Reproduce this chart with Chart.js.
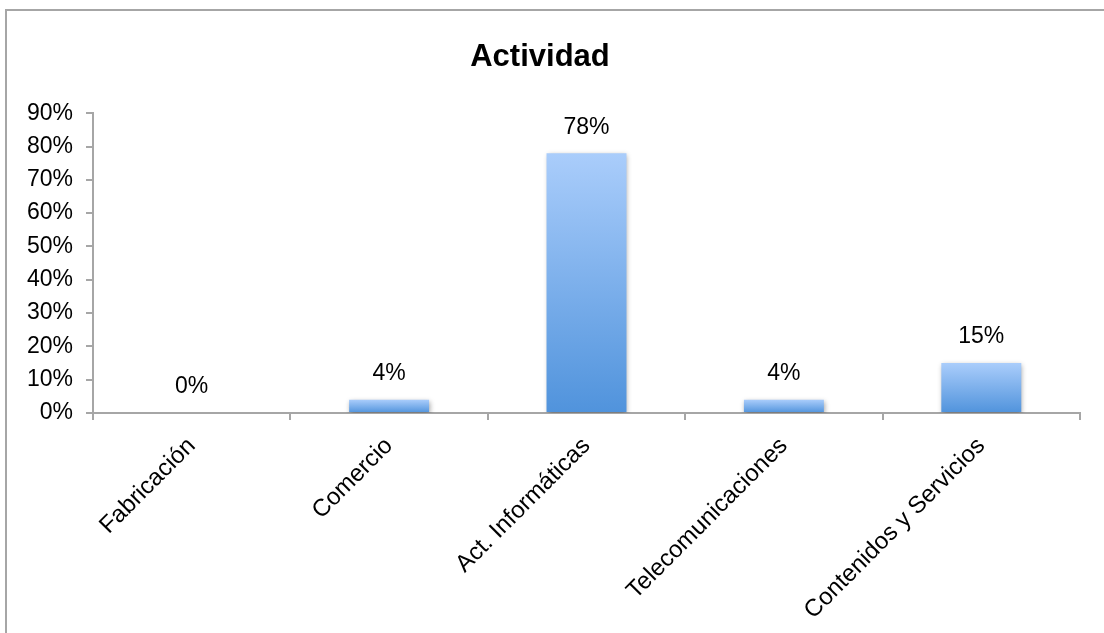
<!DOCTYPE html>
<html>
<head>
<meta charset="utf-8">
<script src="https://cdn.jsdelivr.net/npm/chart.js@4/dist/chart.umd.min.js"></script>
<style>
  html, body { margin: 0; padding: 0; background: #fff; overflow: hidden; }
  #wrap { position: relative; width: 1104px; height: 633px; }
  #frame { position: absolute; left: 5px; top: 9px; width: 1200px; height: 700px;
           border-left: 2px solid #a6a6a6; border-top: 2px solid #a6a6a6; }
  canvas { position: absolute; left: 0; top: 0; }
</style>
</head>
<body>
<div id="wrap">
  <div id="frame"></div>
  <canvas id="myChart" width="1104" height="633"></canvas>
</div>
<script>
// Datos
const categorias = ['Fabricación', 'Comercio', 'Act. Informáticas', 'Telecomunicaciones', 'Contenidos y Servicios'];
const valores = [0, 4, 78, 4, 15];
const ticksY = [0, 10, 20, 30, 40, 50, 60, 70, 80, 90];

Chart.defaults.font.family = '"Liberation Sans", Arial, sans-serif';
Chart.defaults.color = '#000';

// Degradado por barra
function degradado(context) {
  const chart = context.chart;
  if (!chart.chartArea || !chart.scales.y) return '#78aee9';
  const v = context.raw || 0;
  const y = chart.scales.y;
  const top = y.getPixelForValue(v);
  const bottom = y.getPixelForValue(0);
  if (bottom - top < 1) return '#78aee9';
  const g = chart.ctx.createLinearGradient(0, top, 0, bottom);
  g.addColorStop(0, '#aacdfb');
  g.addColorStop(1, '#5093dc');
  return g;
}

// Sombra y etiquetas de datos
const etiquetas = {
  id: 'etiquetas',
  beforeDatasetDraw(chart) {
    const ctx = chart.ctx;
    ctx.save();
    ctx.shadowColor = 'rgba(0,0,0,0.35)';
    ctx.shadowBlur = 5;
    ctx.shadowOffsetX = 1;
    ctx.shadowOffsetY = 2;
  },
  afterDatasetDraw(chart) {
    chart.ctx.restore();
  },
  afterDatasetsDraw(chart) {
    const ctx = chart.ctx;
    const meta = chart.getDatasetMeta(0);
    ctx.save();
    ctx.font = '23px "Liberation Sans", Arial, sans-serif';
    ctx.fillStyle = '#000';
    ctx.textAlign = 'center';
    ctx.textBaseline = 'middle';
    meta.data.forEach((bar, i) => {
      ctx.fillText(valores[i] + '%', bar.x, bar.y - 26);
    });
    ctx.restore();
  }
};

let ctx = document.getElementById('myChart').getContext('2d');
let chart = new Chart(ctx, {
  type: 'bar',
  data: {
    labels: categorias,
    datasets: [{
      data: valores,
      backgroundColor: degradado,
      borderWidth: 0,
      barPercentage: 0.81,
      categoryPercentage: 0.5
    }]
  },
  plugins: [etiquetas],
  options: {
    responsive: false,
    animation: false,
    layout: { padding: { left: 0, right: 24, top: 0, bottom: 0 } },
    plugins: {
      legend: { display: false },
      tooltip: { enabled: false },
      title: {
        display: true,
        text: 'Actividad',
        font: { size: 31, weight: 'bold' },
        color: '#000',
        padding: { top: 39, bottom: 37 }
      }
    },
    scales: {
      y: {
        min: 0,
        max: 90,
        afterBuildTicks(scale) { scale.ticks = ticksY.map(v => ({ value: v })); },
        afterFit(scale) { scale.width = 93; },
        border: { display: true, color: '#a6a6a6', width: 2 },
        grid: { drawOnChartArea: false, drawTicks: true, tickLength: 7, color: '#a6a6a6', lineWidth: 2 },
        ticks: {
          padding: 13,
          font: { size: 23 },
          color: '#000',
          callback: v => v + '%'
        }
      },
      x: {
        afterFit(scale) { scale.height = 220; },
        border: { display: true, color: '#a6a6a6', width: 2 },
        grid: { drawOnChartArea: false, drawTicks: true, tickLength: 7, color: '#a6a6a6', lineWidth: 2, offset: true },
        ticks: {
          maxRotation: 45,
          minRotation: 45,
          padding: 12,
          font: { size: 24 },
          color: '#000'
        }
      }
    }
  }
});
</script>
</body>
</html>
